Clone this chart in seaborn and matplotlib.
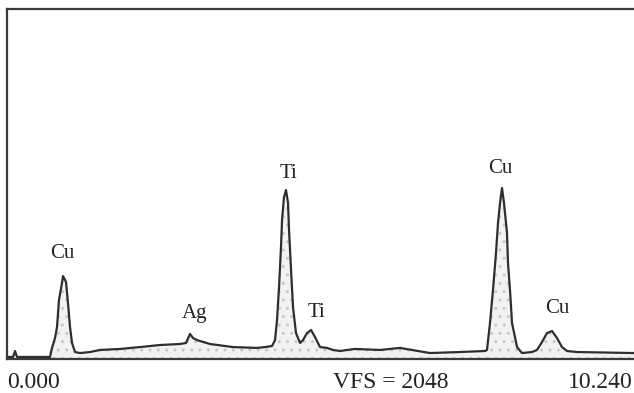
import matplotlib
matplotlib.use("Agg")
import matplotlib.pyplot as plt
import seaborn as sns
import pandas as pd

# Spectrum: energy (keV) and counts (VFS = 2048)
energy_kev = [0.000, 0.098, 0.131, 0.163, 0.702, 0.735, 0.784, 0.817, 0.849, 0.898,
              0.915, 0.931, 0.964, 0.996, 1.029, 1.062, 1.111, 1.192, 1.356, 1.519,
              1.846, 2.172, 2.499, 2.825, 2.923, 2.989, 3.038, 3.103, 3.315, 3.691,
              4.083, 4.214, 4.328, 4.377, 4.410, 4.443, 4.475, 4.492, 4.524, 4.557,
              4.590, 4.606, 4.639, 4.671, 4.720, 4.786, 4.834, 4.900, 4.965, 5.030,
              5.112, 5.226, 5.324, 5.439, 5.683, 6.092, 6.418, 6.908, 7.398, 7.806,
              7.839, 7.888, 7.937, 7.986, 8.019, 8.052, 8.084, 8.117, 8.166, 8.182,
              8.215, 8.248, 8.330, 8.411, 8.574, 8.656, 8.738, 8.819, 8.901, 8.983,
              9.064, 9.146, 9.309, 10.240]
counts = [9, 9, 44, 9, 9, 62, 120, 185, 343, 442,
          483, 472, 448, 325, 185, 91, 38, 32, 38, 50,
          56, 67, 79, 85, 91, 144, 120, 108, 85, 67,
          62, 67, 73, 108, 226, 419, 653, 812, 946, 987,
          911, 753, 518, 302, 149, 91, 108, 149, 167, 126,
          67, 62, 50, 44, 56, 50, 62, 32, 38, 44,
          50, 208, 401, 618, 794, 911, 999, 911, 735, 560,
          401, 208, 67, 32, 38, 50, 97, 149, 161, 120,
          67, 44, 38, 32]

# Peak labels
peak_labels = ["Cu", "Ag", "Ti", "Ti", "Cu", "Cu"]
peak_label_kev = [0.90, 3.07, 4.59, 5.05, 8.05, 8.98]
peak_label_counts = [589, 238, 1058, 243, 1087, 267]

x_min_label = "0.000"
x_max_label = "10.240"
vfs_label = "VFS = 2048"
x_max = 10.24
vfs = 2048

sns.set_style("white")
plt.rcParams["font.family"] = ["Liberation Serif", "DejaVu Serif"]

df = pd.DataFrame({"energy": energy_kev, "counts": counts})

fig = plt.figure(figsize=(6.34, 3.93), dpi=100)
ax = fig.add_axes([7 / 634, 34.5 / 393, 1 - 7 / 634, 349.5 / 393])

ax.fill_between(df["energy"], 0, df["counts"], facecolor="#f2f2f2",
                edgecolor="#c8c8c8", hatch="..", linewidth=0)
sns.lineplot(data=df, x="energy", y="counts", ax=ax, color="#2e2e2e",
             linewidth=1.6, estimator=None, sort=False)

ax.set_xlim(0, x_max)
ax.set_ylim(0, vfs)
ax.set_xticks([])
ax.set_yticks([])
ax.set_xlabel("")
ax.set_ylabel("")
for side in ["left", "top", "bottom"]:
    ax.spines[side].set_color("#3a3a3a")
    ax.spines[side].set_linewidth(1.6)
ax.spines["right"].set_visible(False)

for name, e, c in zip(peak_labels, peak_label_kev, peak_label_counts):
    ax.text(e, c, name, ha="center", va="baseline", fontsize=15, color="#222222")

fig.text(7 / 634, 5 / 393, x_min_label, ha="left", va="baseline", fontsize=17, color="#222222")
fig.text(333 / 634, 5 / 393, vfs_label, ha="left", va="baseline", fontsize=17, color="#222222")
fig.text(633 / 634, 5 / 393, x_max_label, ha="right", va="baseline", fontsize=17, color="#222222")

fig.savefig("out.png", dpi=100, facecolor="white")
